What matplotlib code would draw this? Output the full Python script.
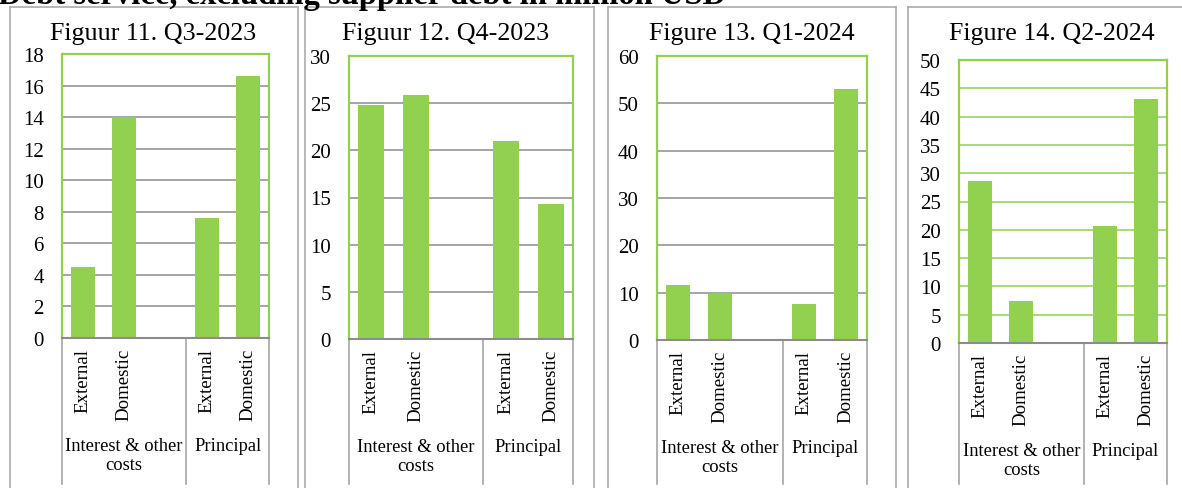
import matplotlib
matplotlib.use("Agg")
import matplotlib.pyplot as plt
from matplotlib.lines import Line2D
import matplotlib.transforms as mtransforms

plt.rcParams['font.family'] = ['Liberation Serif', 'DejaVu Serif']

W, H = 1182, 489

# data
titles = ['Figuur 11. Q3-2023', 'Figuur 12. Q4-2023', 'Figure 13. Q1-2024', 'Figure 14. Q2-2024']
sub_labels = ['External', 'Domestic', 'External', 'Domestic']
group_labels = ['Interest & other\ncosts', 'Principal']
q3_2023 = [4.5, 14.0, 7.6, 16.6]
q4_2023 = [24.8, 25.9, 21.0, 14.3]
q1_2024 = [11.7, 9.9, 7.7, 53.0]
q2_2024 = [28.6, 7.4, 20.6, 43.1]
y_max = [18, 30, 60, 50]
y_step = [2, 5, 10, 5]

series = [q3_2023, q4_2023, q1_2024, q2_2024]
slots = [0, 1, 3, 4]  # slot 2 is the empty one in the first group

# layout in pixels: plot area (x0, y0, x1, y1), panel frame (x0, x1)
plot_boxes = [(62, 55, 269, 339), (349, 57, 573, 340), (657, 57, 867, 341), (959, 61, 1167, 344)]
frames = [(10, 298), (305, 594), (608, 896), (908, 1200)]
title_x = [153, 446, 752, 1052]

green = '#92D050'
grid_cols = ['#8C8C8C', '#8C8C8C', '#8C8C8C', green]
frame_col = '#ABABAB'

fig = plt.figure(figsize=(W / 100, H / 100), dpi=100)


def px(x, y):
    return x / W, 1 - y / H


# top title, cut off by the top edge
fig.text(-2 / W, 1 - 4 / H, 'Debt service, excluding supplier debt in million USD',
         fontsize=23.5, fontweight='bold', ha='left', va='baseline')

for i in range(4):
    fx0, fx1 = frames[i]
    # panel frame
    for xs, ys in [([fx0, fx0], [8, 495]), ([fx1, fx1], [8, 495]), ([fx0, fx1], [8, 8])]:
        fig.add_artist(Line2D([x / W for x in xs], [1 - y / H for y in ys],
                              color=frame_col, lw=1.2))

    x0, y0, x1, y1 = plot_boxes[i]
    ax = fig.add_axes([x0 / W, 1 - y1 / H, (x1 - x0) / W, (y1 - y0) / H])
    ax.bar(slots, series[i], width=0.58, color=green, zorder=3)
    ax.set_xlim(-0.5, 4.5)
    ax.set_ylim(0, y_max[i])
    ax.set_yticks(range(0, y_max[i] + 1, y_step[i]))
    ax.tick_params(axis='y', length=0, pad=13, labelsize=15)
    ax.set_xticks([])
    ax.grid(axis='y', color=grid_cols[i], lw=1.1, zorder=1)
    for s in ['left', 'right', 'top']:
        ax.spines[s].set_color(green)
        ax.spines[s].set_linewidth(1.6)
    ax.spines['bottom'].set_color('#8C8C8C')
    ax.spines['bottom'].set_linewidth(1.5)
    ax.spines['bottom'].set_zorder(4)

    fx, fy = px(title_x[i], 34)
    fig.text(fx, fy, titles[i], fontsize=18.7, ha='center', va='center')

    # multi-level category axis
    trans = mtransforms.blended_transform_factory(ax.transData, ax.transAxes)
    depth = (485 - y1) / (y1 - y0)
    for xv in [-0.5, 2.5, 4.5]:
        ax.plot([xv, xv], [0, -depth], color='#A6A6A6', lw=1.2, transform=trans, clip_on=False)
    for s, lab in zip(slots, sub_labels):
        ax.annotate(lab, xy=(s, 0), xycoords=trans, xytext=(0, -7), textcoords='offset points',
                    rotation=90, ha='center', va='top', fontsize=13.6, annotation_clip=False)
    for gx, lab in zip([1.0, 3.5], group_labels):
        ax.annotate(lab, xy=(gx, 0), xycoords=trans, xytext=(0, -71), textcoords='offset points',
                    ha='center', va='top', fontsize=13.3, linespacing=1.15, annotation_clip=False)

fig.savefig('out.png', dpi=100)
